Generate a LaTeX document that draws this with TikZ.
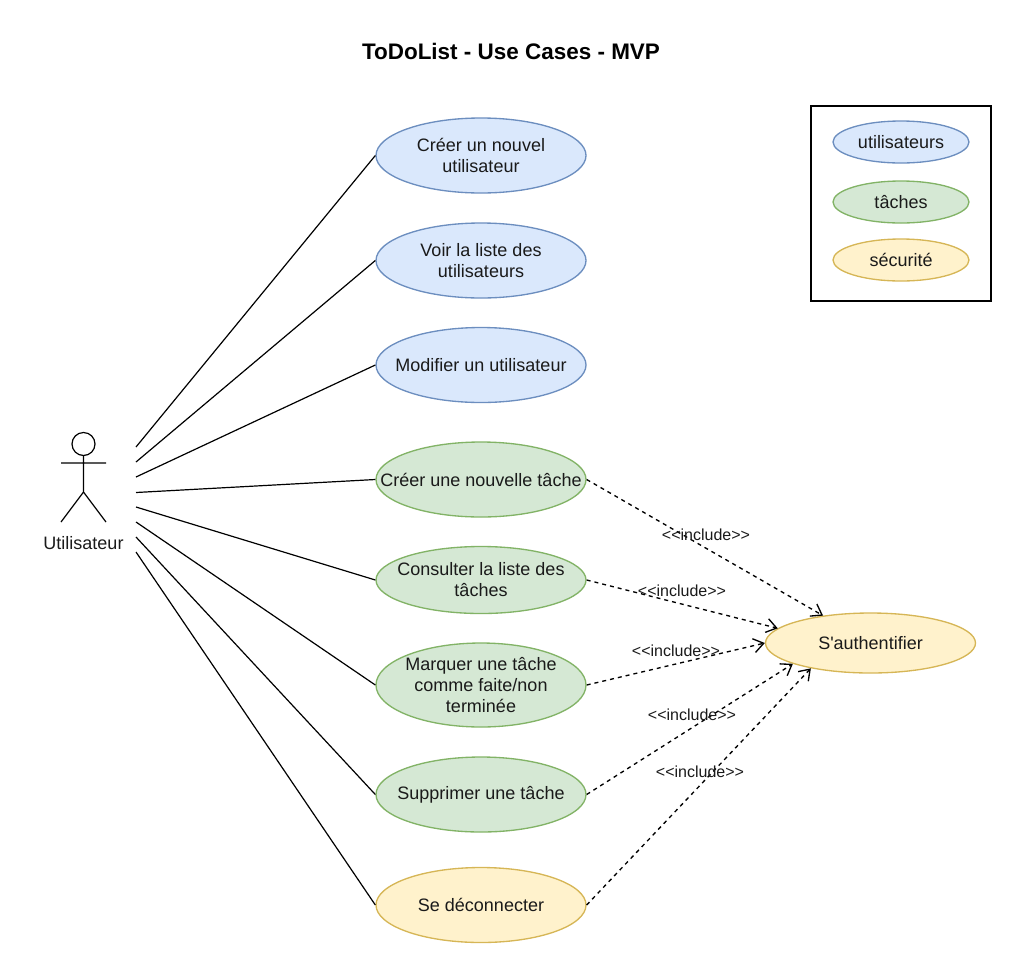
\documentclass[tikz,border=0pt]{standalone}
\usepackage{fontspec}
\setmainfont{Liberation Sans}
\newfontfamily\plainf{Liberation Sans}
\usetikzlibrary{shapes.geometric,arrows.meta}
\definecolor{bluef}{HTML}{DAE8FC}\definecolor{blued}{HTML}{6C8EBF}
\definecolor{greenf}{HTML}{D5E8D4}\definecolor{greend}{HTML}{82B366}
\definecolor{yelf}{HTML}{FFF2CC}\definecolor{yeld}{HTML}{D6B656}
\definecolor{ink}{HTML}{1A1A1A}
\tikzset{
  x=0.75pt,y=-0.75pt,
  uc/.style={ellipse,draw,line width=1pt,inner xsep=-30pt,inner ysep=-30pt,align=center,text=ink,font=\fontsize{13.5}{15.75}\selectfont,minimum width=157.5pt},
  ucb/.style={uc,fill=bluef,draw=blued},
  ucg/.style={uc,fill=greenf,draw=greend},
  ucy/.style={uc,fill=yelf,draw=yeld},
  leg/.style={minimum width=102pt,minimum height=31.5pt},
  assoc/.style={draw=black,line width=0.9pt},
  incl/.style={draw=black,line width=1pt,dash pattern=on 3pt off 3pt,-{Straight Barb[length=7.5pt,width=10.5pt,line width=1pt]}},
  incltext/.style={inner sep=0pt,text=ink,font=\fontsize{12}{14}\selectfont},
}
\begin{document}
\begin{tikzpicture}
\useasboundingbox (0,0) rectangle (1020,975);
\node[font=\bfseries\fontsize{16.85}{20}\selectfont,inner sep=0pt] (title) at (511,51) {ToDoList - Use Cases - MVP};
% legend
\node[draw=black,line width=0.85pt,minimum width=135pt,minimum height=146.25pt,inner sep=0pt] (legend) at (901,203.5) {};
\node[ucb,leg] (lu) at (901,142) {utilisateurs};
\node[ucg,leg] (lt) at (901,202) {tâches};
\node[ucy,leg] (ls) at (901,260) {sécurité};
% use cases
\node[ucb,minimum height=56.25pt] (u1) at (481,155.5) {Créer un nouvel\\utilisateur};
\node[ucb,minimum height=56.25pt] (u2) at (481,260.5) {Voir la liste des\\utilisateurs};
\node[ucb,minimum height=56.25pt] (u3) at (481,365) {Modifier un utilisateur};
\node[ucg,minimum height=56.25pt] (t1) at (481,479.5) {Créer une nouvelle tâche};
\node[ucg,minimum height=50.25pt] (t2) at (481,580) {Consulter la liste des\\tâches};
\node[ucg,minimum height=63pt] (t3) at (481,685) {Marquer une tâche\\comme faite/non\\terminée};
\node[ucg,minimum height=56.25pt] (t4) at (481,794.5) {Supprimer une tâche};
\node[ucy,minimum height=56.25pt] (s1) at (481,905) {Se déconnecter};
\node[ucy,minimum height=45pt] (auth) at (870.5,643) {\plainf S'authentifier};
% actor
\node[circle,draw=black,line width=0.9pt,minimum size=17.25pt,inner sep=0pt] (head) at (83.5,444) {};
\coordinate (hip) at (83.5,492);
\coordinate (armL) at (61,463);\coordinate (armR) at (106,463);
\coordinate (footL) at (61,522);\coordinate (footR) at (106,522);
\draw[assoc] (head.south) -- (hip) (armL) -- (armR) (footL) -- (hip) -- (footR);
\node[inner sep=0pt,text=ink,font=\fontsize{13.5}{15}\selectfont] (actor) at (83.5,543) {Utilisateur};
% free ends beside the actor
\coordinate (a1) at (136,447);\coordinate (a2) at (136,462);
\coordinate (a3) at (136,477);\coordinate (a4) at (136,492.5);
\coordinate (a5) at (136,507);\coordinate (a6) at (136,522);
\coordinate (a7) at (136,537);\coordinate (a8) at (136,552);
\draw[assoc] (a1) -- (u1.west);
\draw[assoc] (a2) -- (u2.west);
\draw[assoc] (a3) -- (u3.west);
\draw[assoc] (a4) -- (t1.west);
\draw[assoc] (a5) -- (t2.west);
\draw[assoc] (a6) -- (t3.west);
\draw[assoc] (a7) -- (t4.west);
\draw[assoc] (a8) -- (s1.west);
% includes
\draw[incl] (t1.east) -- (auth.150.6);
\draw[incl] (t2.east) -- (auth.171);
\draw[incl] (t3.east) -- (auth.west);
\draw[incl] (t4.east) -- (auth.195.8);
\draw[incl] (s1.east) -- (auth.203.5);
\node[incltext] (i1) at (706,534.5) {<{}<include>{}>};
\node[incltext] (i2) at (682,590.5) {<{}<include>{}>};
\node[incltext] (i3) at (676,650.5) {<{}<include>{}>};
\node[incltext] (i4) at (692,714.5) {<{}<include>{}>};
\node[incltext] (i5) at (700,771.5) {<{}<include>{}>};
\end{tikzpicture}
\end{document}
